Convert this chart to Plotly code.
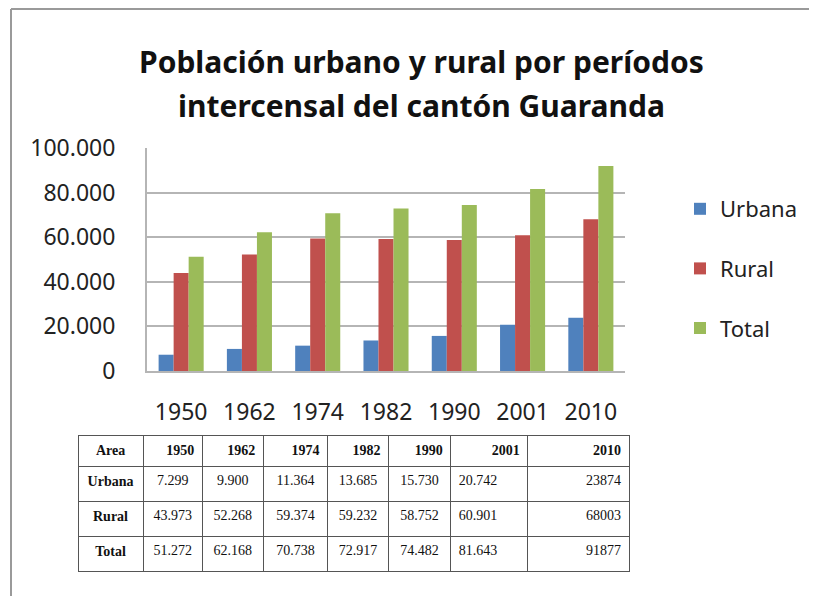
import plotly.graph_objects as go

# Población urbano y rural, cantón Guaranda
years = ["1950", "1962", "1974", "1982", "1990", "2001", "2010"]
urbana = [7299, 9900, 11364, 13685, 15730, 20742, 23874]
rural = [43973, 52268, 59374, 59232, 58752, 60901, 68003]
total = [51272, 62168, 70738, 72917, 74482, 81643, 91877]

series = [("Urbana", urbana, "#4F81BD"),
          ("Rural", rural, "#C0504D"),
          ("Total", total, "#9BBB59")]

title_lines = ["Población urbano y rural por períodos",
               "intercensal del cantón Guaranda"]

FONT = "Noto Sans, Open Sans, sans-serif"
W, H = 817, 596
OFF = 8  # margen del body de la página


def px(x):
    return (x - OFF) / W


def py(y):
    return 1 - (y - OFF) / H


def fmt(v, year):
    # la columna 2010 aparece sin separador de miles en la tabla original
    if year == "2010":
        return str(v)
    return f"{v:,}".replace(",", ".")


fig = go.Figure()

for i, (name, vals, color) in enumerate(series):
    fig.add_trace(go.Bar(
        x=years, y=vals, name=name,
        marker=dict(color=color, line=dict(width=0)),
        legendgroup=name,
    ))

# tabla de datos
header = ["<b>Area</b>"] + [f"<b>{y}</b>" for y in years]
cols = [["<b>Urbana</b>", "<b>Rural</b>", "<b>Total</b>"]]
for j, y in enumerate(years):
    cols.append([fmt(urbana[j], y), fmt(rural[j], y), fmt(total[j], y)])

cell_align = ["center"] + ["center"] * 5 + ["left", "right"]

fig.add_trace(go.Table(
    domain=dict(x=[px(78), px(629)], y=[py(574), py(435)]),
    columnwidth=[65, 59, 61, 64, 61, 62, 77, 101],
    header=dict(values=header, height=27,
                align=["center"] + ["right"] * 7,
                fill_color="white",
                line=dict(color="#555555", width=1),
                font=dict(family="Liberation Serif, serif", size=14, color="#111111")),
    cells=dict(values=cols, height=35,
               align=cell_align,
               fill_color="white",
               line=dict(color="#555555", width=1),
               font=dict(family="Liberation Serif, serif", size=14, color="#111111")),
))

for k, line in enumerate(title_lines):
    fig.add_annotation(text=f"<b>{line}</b>", xref="paper", yref="paper",
                       x=px(421), y=py(61 + 44 * k), xanchor="center", yanchor="middle",
                       showarrow=False, font=dict(family=FONT, size=30, color="#111111"))

fig.update_layout(
    width=W, height=H,
    margin=dict(l=0, r=0, t=0, b=0, pad=0, autoexpand=False),
    paper_bgcolor="white", plot_bgcolor="white",
    separators=",.",
    barmode="group", bargap=0.34, bargroupgap=0,
    font=dict(family=FONT, color="#222222"),
    showlegend=True,
    legend=dict(x=px(680), y=py(188), xanchor="left", yanchor="top",
                font=dict(size=22, color="#222222"), tracegroupgap=28,
                itemwidth=30),
    xaxis=dict(domain=[px(147), px(625)], showgrid=False, showline=True,
               linecolor="#b5b5b5", linewidth=2, automargin=False,
               tickfont=dict(size=23, color="#222222"), ticks="",
               ticklabelstandoff=19),
    yaxis=dict(domain=[py(371), py(148)], range=[0, 100000],
               tickvals=[0, 20000, 40000, 60000, 80000, 100000], tickformat=",d",
               showgrid=True, gridcolor="#b5b5b5", gridwidth=2,
               showline=True, linecolor="#b5b5b5", linewidth=2,
               zeroline=False, ticks="", automargin=False,
               tickfont=dict(size=23, color="#222222"), ticklabelstandoff=25),
    shapes=[
        dict(type="line", xref="paper", yref="paper", x0=px(11), x1=1, y0=py(9), y1=py(9),
             line=dict(color="#9a9a9a", width=2)),
        dict(type="line", xref="paper", yref="paper", x0=px(11), x1=px(11), y0=0, y1=py(9),
             line=dict(color="#9a9a9a", width=2)),
    ],
)

fig.write_html("out.html")
